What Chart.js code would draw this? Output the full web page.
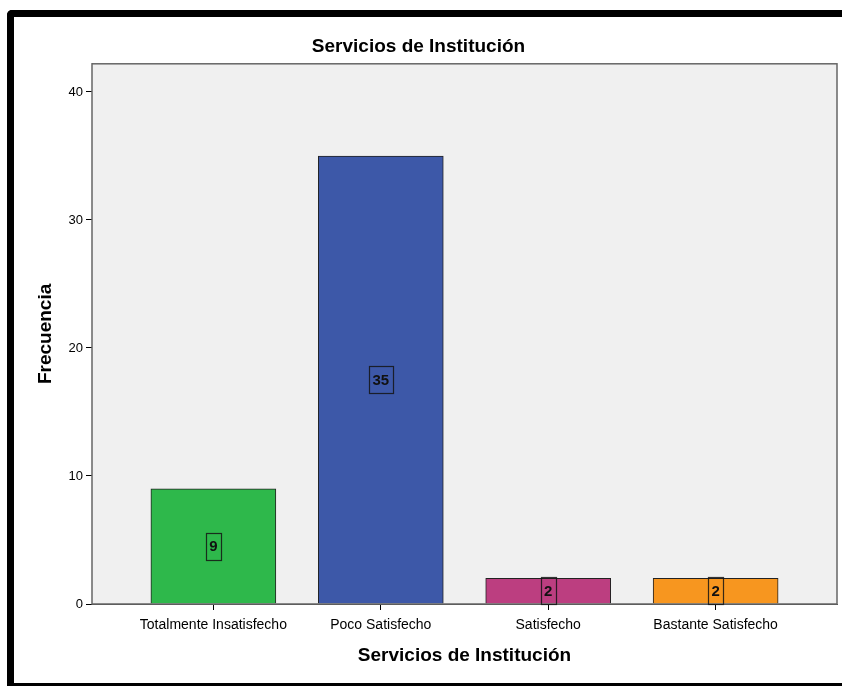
<!DOCTYPE html>
<html>
<head>
<meta charset="utf-8">
<script src="https://cdn.jsdelivr.net/npm/chart.js@4.4.0/dist/chart.umd.min.js"></script>
<style>
  html, body { margin: 0; padding: 0; background: #ffffff; }
  #wrap { position: relative; width: 842px; height: 686px; overflow: hidden; }
  #frame { position: absolute; left: 7px; top: 10px; width: 900px; height: 676px; box-sizing: border-box;
           border-top: 7px solid #000; border-left: 7px solid #000; border-bottom: 3px solid #000;
           border-top-left-radius: 5px; pointer-events: none; }
  canvas { position: absolute; left: 0; top: 0; }
</style>
</head>
<body>
<div id="wrap">
  <canvas id="c" width="842" height="686"></canvas>
  <div id="frame"></div>
</div>
<script>
const chartTitle = 'Servicios de Institución';
const xAxisTitle = 'Servicios de Institución';
const yAxisTitle = 'Frecuencia';
const categories = ['Totalmente Insatisfecho', 'Poco Satisfecho', 'Satisfecho', 'Bastante Satisfecho'];
const frequencies = [9, 35, 2, 2];
const yTickValues = [0, 10, 20, 30, 40];
const barColors = ['#2eb84b', '#3d58a8', '#bc3e80', '#f7961f'];

const FONT = "'Liberation Sans', Arial, sans-serif";

const plotBg = {
  id: 'plotBg',
  beforeDatasetsDraw(chart) {
    const {ctx, chartArea: a} = chart;
    ctx.save();
    ctx.fillStyle = '#f0f0f0';
    ctx.fillRect(a.left, a.top, a.right - a.left, a.bottom - a.top);
    ctx.restore();
  },
  afterDatasetsDraw(chart) {
    const {ctx, chartArea: a} = chart;
    ctx.save();
    ctx.strokeStyle = '#666';
    ctx.lineWidth = 1.5;
    ctx.strokeRect(a.left, a.top, a.right - a.left, a.bottom - a.top);
    // value labels
    const meta = chart.getDatasetMeta(0);
    ctx.font = "bold 15px " + FONT;
    ctx.textAlign = 'center';
    ctx.textBaseline = 'middle';
    meta.data.forEach((bar, i) => {
      const v = chart.data.datasets[0].data[i].y;
      const txt = String(v);
      const cx = bar.x;
      const cy = (bar.y + bar.base) / 2;
      const w = ctx.measureText(txt).width + 7;
      const h = 27;
      ctx.strokeStyle = 'rgba(20,20,20,0.85)';
      ctx.lineWidth = 1.2;
      ctx.strokeRect(Math.round(cx - w / 2) + 0.5, Math.round(cy - h / 2) + 0.5, Math.round(w), h);
      ctx.fillStyle = '#111';
      ctx.fillText(txt, cx, cy + 1);
    });
    ctx.restore();
  }
};

new Chart(document.getElementById('c'), {
  type: 'bar',
  data: {
    datasets: [{
      data: categories.map((c, i) => ({x: i, y: frequencies[i]})),
      backgroundColor: barColors,
      borderColor: '#222',
      borderWidth: 1,
      barThickness: 125
    }]
  },
  plugins: [plotBg],
  options: {
    responsive: false,
    animation: false,
    layout: { padding: { left: 0, right: 5, top: 0, bottom: 0 } },
    plugins: {
      legend: { display: false },
      tooltip: { enabled: false },
      title: {
        display: true,
        text: chartTitle,
        color: '#000',
        font: { family: FONT, size: 19, weight: 'bold' },
        padding: { top: 35, bottom: 6 }
      }
    },
    scales: {
      x: {
        type: 'linear',
        offset: false,
        min: -0.725,
        max: 3.725,
        afterBuildTicks(scale) { scale.ticks = categories.map((c, i) => ({value: i})); },
        afterFit(scale) { scale.height = 82; },
        ticks: {
          autoSkip: false,
          maxRotation: 0,
          padding: 7,
          color: '#000',
          font: { family: FONT, size: 14 },
          callback: (v) => categories[v]
        },
        grid: { display: true, offset: false, drawOnChartArea: false, drawTicks: true, tickLength: 6, color: '#000', lineWidth: 1 },
        border: { display: true, color: '#444', width: 1 },
        title: {
          display: true,
          text: xAxisTitle,
          color: '#000',
          font: { family: FONT, size: 19, weight: 'bold' },
          padding: { top: 0, bottom: 19 }
        }
      },
      y: {
        min: 0,
        max: 42.2,
        afterBuildTicks(scale) { scale.ticks = yTickValues.map(v => ({value: v})); },
        afterFit(scale) { scale.width = 92; },
        ticks: {
          padding: 3,
          color: '#000',
          font: { family: FONT, size: 13 }
        },
        grid: { display: true, drawOnChartArea: false, drawTicks: true, tickLength: 6, color: '#000', lineWidth: 1 },
        border: { display: true, color: '#444', width: 1 },
        title: {
          display: true,
          text: yAxisTitle,
          color: '#000',
          font: { family: FONT, size: 19, weight: 'bold' },
          padding: { top: 34, bottom: 0 }
        }
      }
    }
  }
});
</script>
</body>
</html>
